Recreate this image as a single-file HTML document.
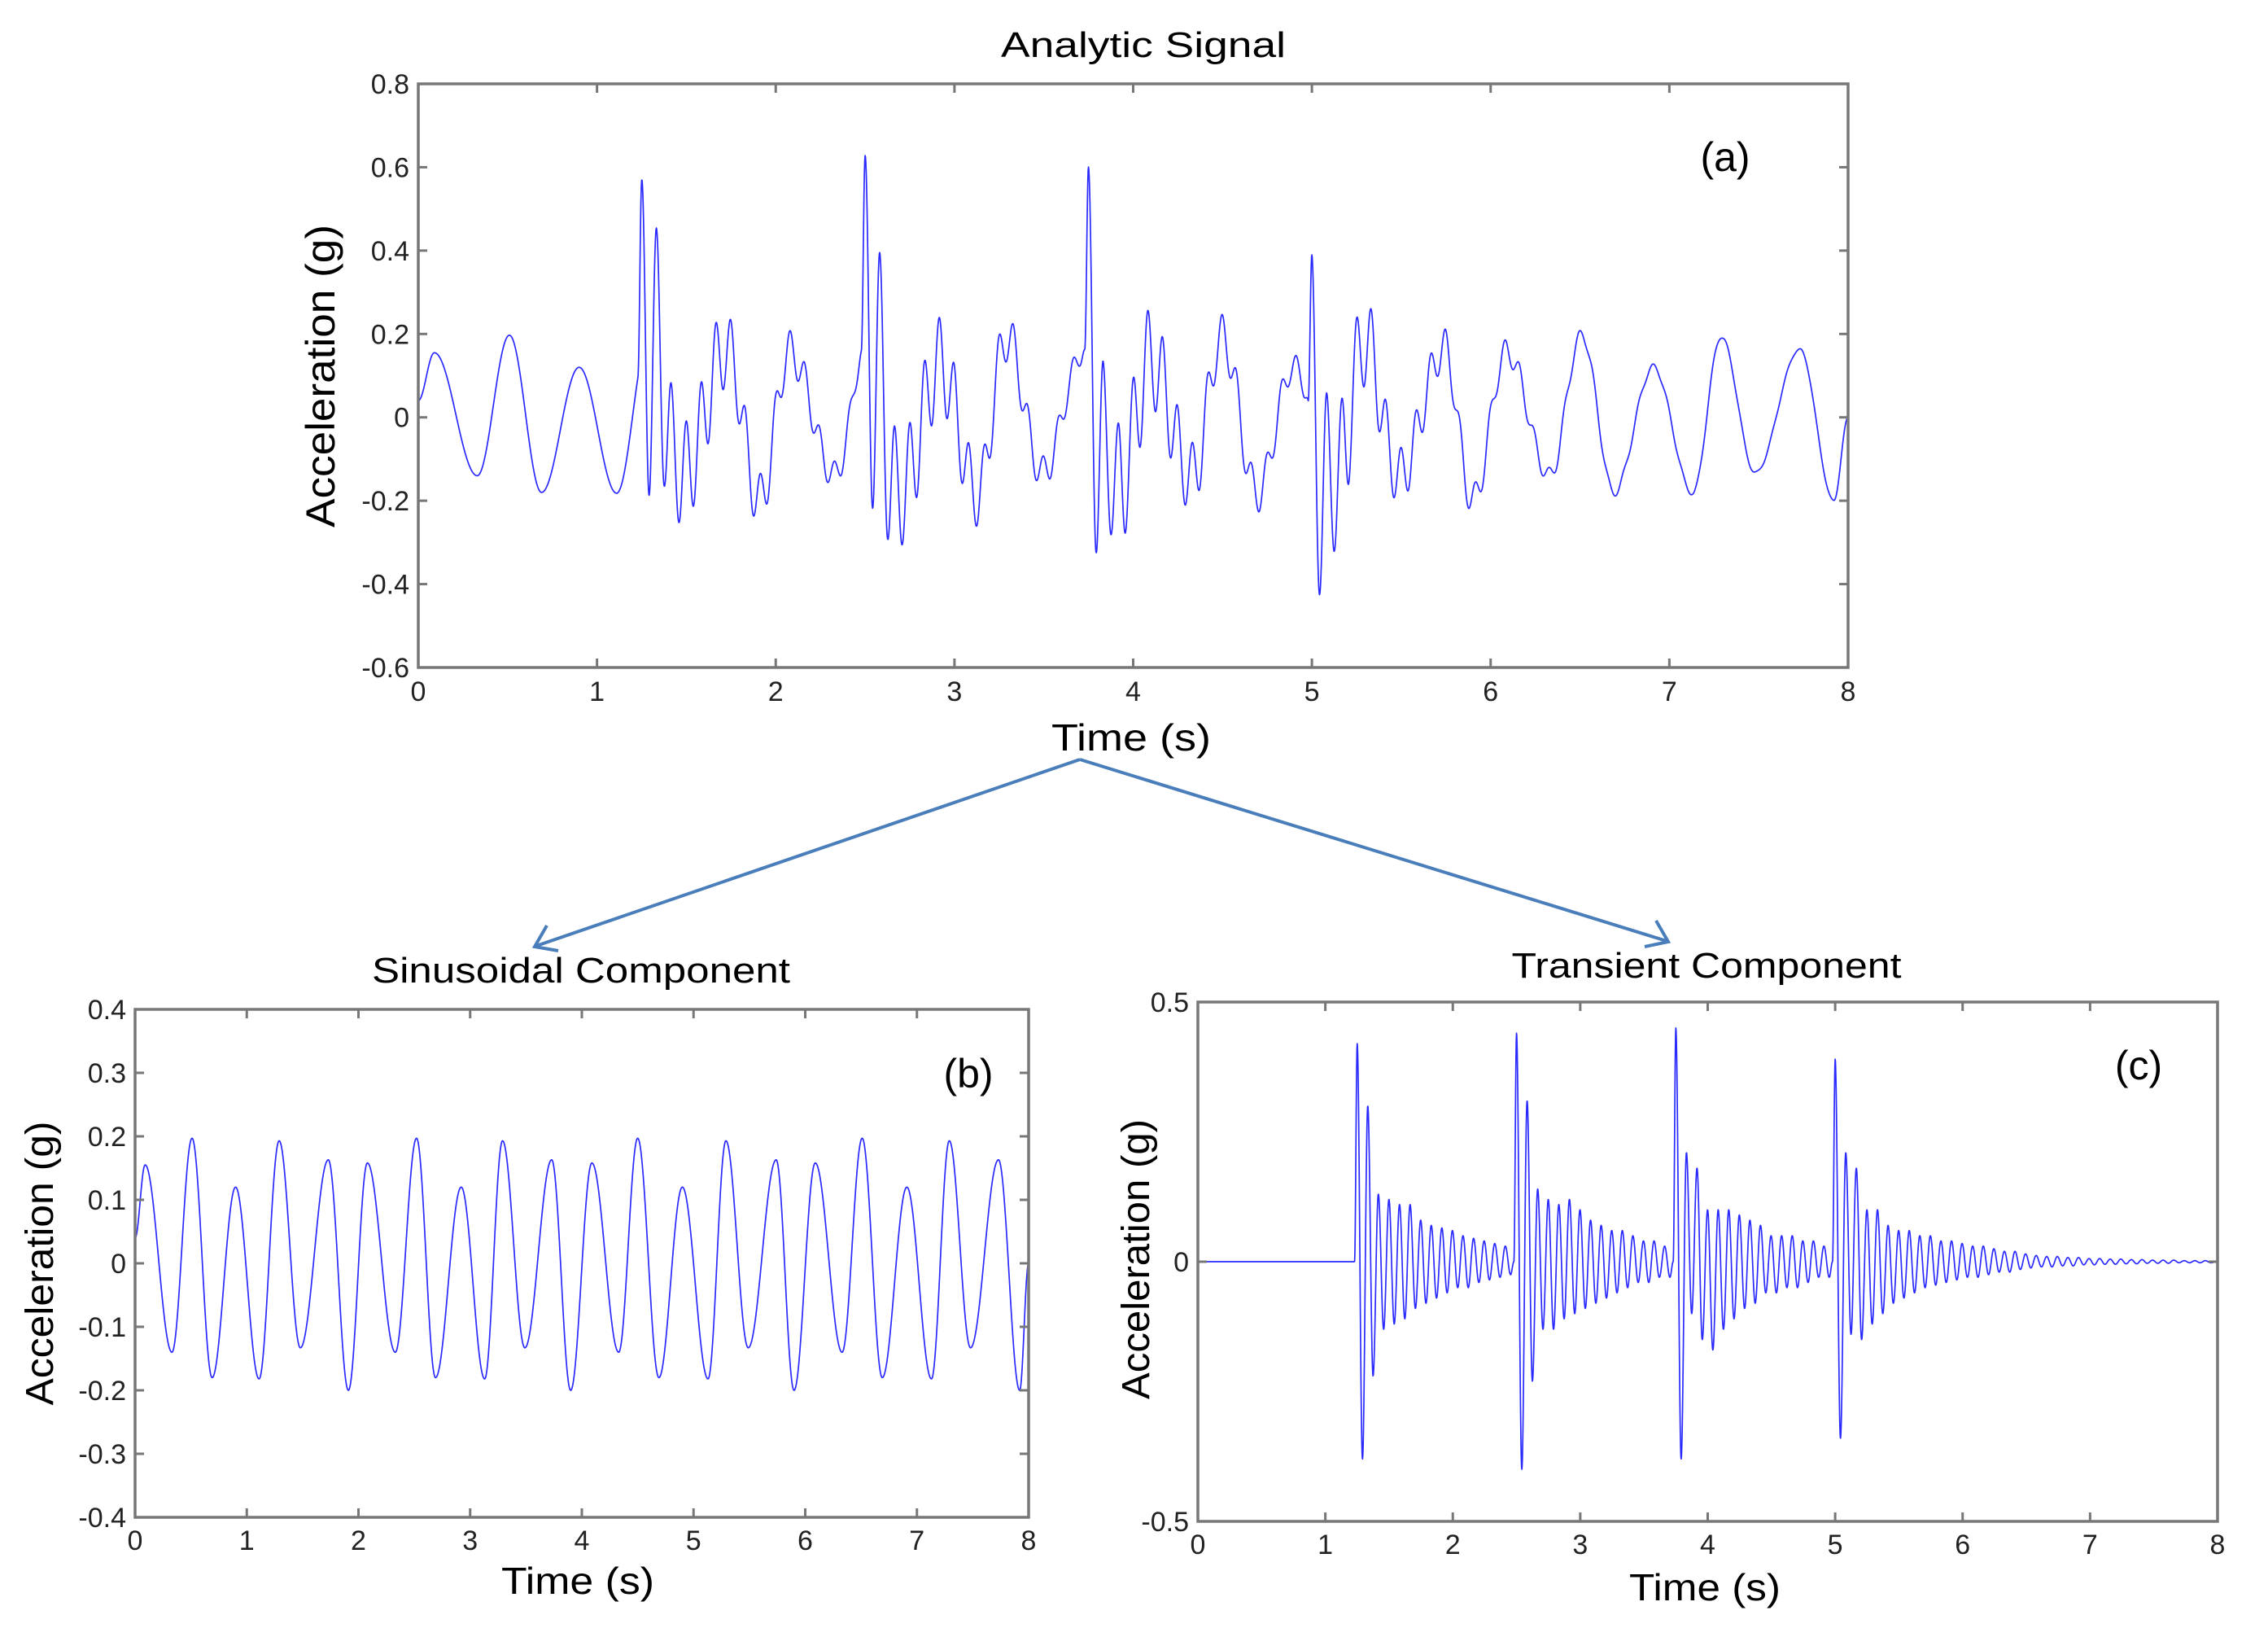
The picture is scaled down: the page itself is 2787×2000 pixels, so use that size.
<!DOCTYPE html>
<html><head><meta charset="utf-8"><style>
html,body{margin:0;padding:0;background:#fff;}
svg{display:block;font-family:"Liberation Sans",Arial,sans-serif;}
</style></head><body>
<svg id="fig" width="2787" height="2000" viewBox="0 0 2787 2000" xmlns="http://www.w3.org/2000/svg">
<g stroke="#4a7ebb" stroke-width="4" fill="none">
<line x1="1327" y1="933" x2="659" y2="1162"/>
<polyline points="672,1137 657,1163 686,1168"/>
<line x1="1327" y1="933" x2="2048" y2="1156"/>
<polyline points="2035,1131 2050,1157 2021,1163"/>
</g>
<text x="1405" y="70" font-size="44" text-anchor="middle" textLength="350" lengthAdjust="spacingAndGlyphs">Analytic Signal</text>
<text x="714" y="1207" font-size="44" text-anchor="middle" textLength="514" lengthAdjust="spacingAndGlyphs">Sinusoidal Component</text>
<text x="2097" y="1201" font-size="44" text-anchor="middle" textLength="479" lengthAdjust="spacingAndGlyphs">Transient Component</text>
<text x="1390" y="922" font-size="46" text-anchor="middle" textLength="196" lengthAdjust="spacingAndGlyphs">Time (s)</text>
<text x="710" y="1958" font-size="46" text-anchor="middle" textLength="188" lengthAdjust="spacingAndGlyphs">Time (s)</text>
<text x="2095" y="1966" font-size="46" text-anchor="middle" textLength="186" lengthAdjust="spacingAndGlyphs">Time (s)</text>
<text transform="translate(411,462) rotate(-90)" font-size="50" text-anchor="middle" textLength="372" lengthAdjust="spacingAndGlyphs">Acceleration (g)</text>
<text transform="translate(65,1552) rotate(-90)" font-size="48" text-anchor="middle" textLength="349" lengthAdjust="spacingAndGlyphs">Acceleration (g)</text>
<text transform="translate(1412,1547) rotate(-90)" font-size="48" text-anchor="middle" textLength="344" lengthAdjust="spacingAndGlyphs">Acceleration (g)</text>
<text x="2120" y="210" font-size="50" text-anchor="middle">(a)</text>
<text x="1190" y="1336" font-size="50" text-anchor="middle">(b)</text>
<text x="2628" y="1326" font-size="50" text-anchor="middle">(c)</text>
<g id="plots"></g>
</svg>
<script>
// ---- data ----
const xTicks = [0,1,2,3,4,5,6,7,8];
const yTicksA = [-0.6,-0.4,-0.2,0,0.2,0.4,0.6,0.8];
const yTickLabelsA = ["-0.6","-0.4","-0.2","0","0.2","0.4","0.6","0.8"];
const yTicksB = [-0.4,-0.3,-0.2,-0.1,0,0.1,0.2,0.3,0.4];
const yTickLabelsB = ["-0.4","-0.3","-0.2","-0.1","0","0.1","0.2","0.3","0.4"];
const yTicksC = [-0.5,0,0.5];
const yTickLabelsC = ["-0.5","0","0.5"];
// sinusoidal component extrema (time s, value g)
const sinTimes = [0,0.09,0.33,0.51,0.69,0.9,1.11,1.29,1.48,1.73,1.91,2.08,2.33,2.52,2.69,2.92,3.13,3.29,3.49,3.73,3.9,4.09,4.33,4.5,4.69,4.9,5.13,5.29,5.49,5.74,5.9,6.09,6.33,6.51,6.69,6.91,7.13,7.29,7.48,7.73,7.92,8];
const sinValues = [0.04,0.155,-0.14,0.197,-0.18,0.12,-0.182,0.193,-0.133,0.163,-0.2,0.158,-0.14,0.197,-0.18,0.12,-0.182,0.193,-0.133,0.163,-0.2,0.158,-0.14,0.197,-0.18,0.12,-0.182,0.193,-0.133,0.163,-0.2,0.158,-0.14,0.197,-0.18,0.12,-0.182,0.193,-0.133,0.163,-0.2,0];
// transient component: burst onsets and per-cycle peaks / troughs
const burstOnsets = [1.25,2.5,3.75,5.0];
const burstPeaks = [
 [0.42,0.30,0.13,0.12,0.11,0.11,0.08,0.07,0.065,0.06,0.05,0.045,0.04,0.035,0.03],
 [0.44,0.31,0.14,0.12,0.11,0.12,0.10,0.08,0.07,0.06,0.06,0.05,0.04,0.04,0.03],
 [0.45,0.21,0.18,0.10,0.10,0.10,0.09,0.08,0.07,0.05,0.05,0.05,0.04,0.04,0.03],
 [0.39,0.21,0.18,0.10,0.10,0.07,0.06,0.06,0.05,0.05,0.04,0.04,0.035,0.03,0.03,0.025,0.02,0.02,0.015,0.012,0.01,0.01,0.008,0.008,0.006,0.006,0.005,0.005,0.004,0.004,0.003,0.003,0.003,0.002,0.002,0.002]
];
const burstTroughs = [
 [-0.38,-0.22,-0.13,-0.12,-0.11,-0.09,-0.08,-0.07,-0.06,-0.05,-0.05,-0.04,-0.035,-0.03,-0.025],
 [-0.40,-0.23,-0.13,-0.13,-0.11,-0.10,-0.09,-0.08,-0.07,-0.06,-0.05,-0.04,-0.04,-0.03,-0.03],
 [-0.38,-0.10,-0.15,-0.17,-0.13,-0.11,-0.09,-0.08,-0.06,-0.06,-0.05,-0.05,-0.04,-0.03,-0.03],
 [-0.34,-0.14,-0.15,-0.12,-0.10,-0.08,-0.07,-0.06,-0.05,-0.045,-0.04,-0.035,-0.03,-0.03,-0.025,-0.02,-0.02,-0.015,-0.012,-0.01,-0.01,-0.008,-0.008,-0.006,-0.006,-0.005,-0.005,-0.004,-0.004,-0.003,-0.003,-0.003,-0.002,-0.002,-0.002,-0.002]
];
const cyclePeriod = 0.083;

// ---- build transient extrema list ----
function transientExtrema(){
  const ts=[0], vs=[0];
  burstOnsets.forEach((on,k)=>{
    ts.push(on-cyclePeriod/4); vs.push(0);
    burstPeaks[k].forEach((p,j)=>{
      ts.push(on+j*cyclePeriod); vs.push(p);
      ts.push(on+j*cyclePeriod+cyclePeriod/2); vs.push(burstTroughs[k][j]);
    });
  });
  ts.push(8); vs.push(0);
  return [ts,vs];
}
function halfCos(ts,vs,t){
  if(t<=ts[0]) return vs[0];
  for(let i=1;i<ts.length;i++){
    if(t<=ts[i]){
      const f=(t-ts[i-1])/(ts[i]-ts[i-1]);
      const w=(1-Math.cos(Math.PI*f))/2;
      return vs[i-1]+(vs[i]-vs[i-1])*w;
    }
  }
  return vs[vs.length-1];
}
const [trT,trV]=transientExtrema();
const NS=4000;
const NSVG="http://www.w3.org/2000/svg";
const root=document.getElementById('plots');
function el(tag,attrs,parent){
  const e=document.createElementNS(NSVG,tag);
  for(const k in attrs) e.setAttribute(k,attrs[k]);
  (parent||root).appendChild(e); return e;
}
function drawPlot(p){
  const g=el('g',{});
  
  
  const xs=t=>p.x0+(t-0)/(8-0)*(p.x1-p.x0);
  const ys=v=>p.y1-(v-p.ymin)/(p.ymax-p.ymin)*(p.y1-p.y0);
  let d='';
  for(let i=0;i<=NS;i++){
    const t=8*i/NS;
    const v=p.fn(t);
    d+=(i?'L':'M')+xs(t).toFixed(2)+','+ys(v).toFixed(2);
  }
  const path=el('path',{d:d,fill:'none',stroke:'#2a2aff','stroke-width':'1.7','stroke-linejoin':'round'},g);
  
  
  const box=el('rect',{x:p.x0,y:p.y0,width:p.x1-p.x0,height:p.y1-p.y0,fill:'none',stroke:'#777','stroke-width':'3.5'},g);
  
  
  const tl=11;
  xTicks.forEach(t=>{
    const x=xs(t);
    el('line',{x1:x,y1:p.y1,x2:x,y2:p.y1-tl,stroke:'#777','stroke-width':'3'},g);
    el('line',{x1:x,y1:p.y0,x2:x,y2:p.y0+tl,stroke:'#777','stroke-width':'3'},g);
    const lb=el('text',{x:x,y:p.xLabelY,'font-size':'34','text-anchor':'middle',fill:'#222'},g);
    lb.textContent=String(t);
    
    
  });
  p.yTicks.forEach((v,i)=>{
    const y=ys(v);
    el('line',{x1:p.x0,y1:y,x2:p.x0+tl,y2:y,stroke:'#777','stroke-width':'3'},g);
    el('line',{x1:p.x1,y1:y,x2:p.x1-tl,y2:y,stroke:'#777','stroke-width':'3'},g);
    const lb=el('text',{x:p.x0-11,y:y+12,'font-size':'34','text-anchor':'end',fill:'#222'},g);
    lb.textContent=p.yLabels[i];
    
    
  });
}
const sinFn=t=>halfCos(sinTimes,sinValues,t);
const trFn=t=>halfCos(trT,trV,t);
drawPlot({name:'analytic-signal-plot',x0:514,x1:2271,y0:103,y1:820,ymin:-0.6,ymax:0.8,yTicks:yTicksA,yLabels:yTickLabelsA,xLabelY:861,fn:t=>sinFn(t)+trFn(t)});
drawPlot({name:'sinusoidal-plot',x0:166,x1:1264,y0:1240,y1:1864,ymin:-0.4,ymax:0.4,yTicks:yTicksB,yLabels:yTickLabelsB,xLabelY:1904,fn:sinFn});
drawPlot({name:'transient-plot',x0:1472,x1:2725,y0:1231,y1:1869,ymin:-0.5,ymax:0.5,yTicks:yTicksC,yLabels:yTickLabelsC,xLabelY:1909,fn:trFn});
</script>
</body></html>
